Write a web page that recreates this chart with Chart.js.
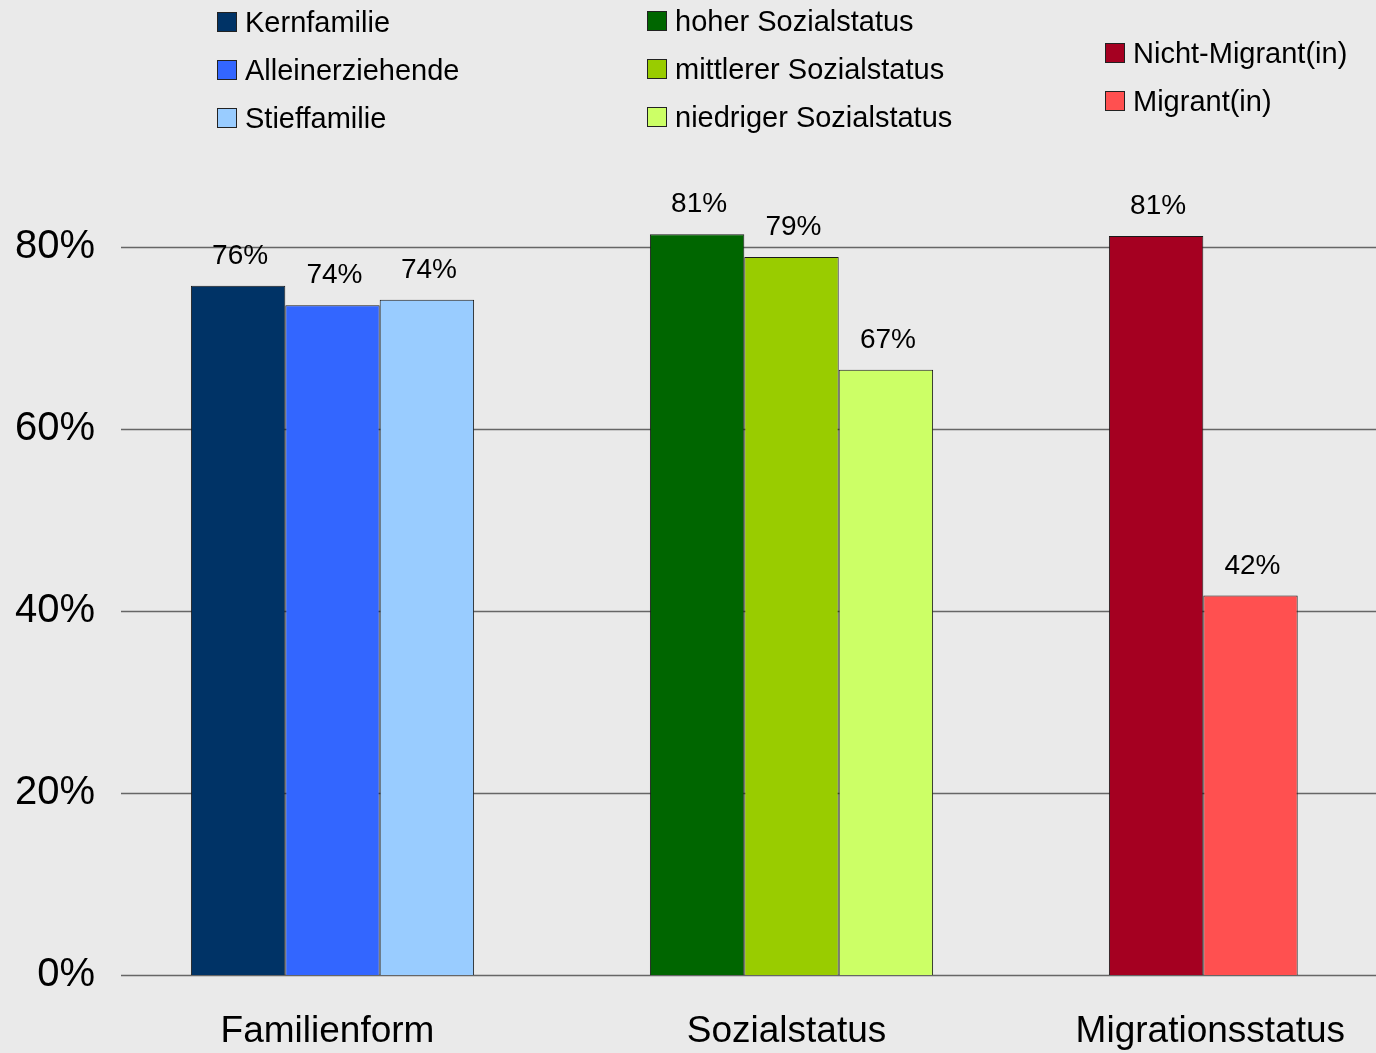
<!DOCTYPE html>
<html>
<head>
<meta charset="utf-8">
<script src="https://cdn.jsdelivr.net/npm/chart.js@4.4.1/dist/chart.umd.min.js"></script>
<style>
  html, body { margin: 0; padding: 0; background: #eaeaea; overflow: hidden; }
  #wrap { position: relative; width: 1376px; height: 1053px; overflow: hidden; }
  #box { position: absolute; left: 0; top: 0; width: 1480px; height: 1053px; }
  .col { position: absolute; font-family: "Liberation Sans", Arial, sans-serif; font-size: 29px; color: #000; }
  .item { display: flex; align-items: center; height: 48px; white-space: nowrap; }
  .sw { width: 20px; height: 20px; box-sizing: border-box; border: 1px solid #222; margin-right: 8px; }
</style>
</head>
<body>
<div id="wrap">
  <div id="box"><canvas id="chart"></canvas></div>
  <div id="legend"></div>
</div>
<script>
// categories on the x axis
const categories = ["Familienform", "Sozialstatus", "Migrationsstatus"];

// one series per legend entry
const seriesNames = [
  "Kernfamilie", "Alleinerziehende", "Stieffamilie",
  "hoher Sozialstatus", "mittlerer Sozialstatus", "niedriger Sozialstatus",
  "Nicht-Migrant(in)", "Migrant(in)"
];
const seriesCategory = [0, 0, 0, 1, 1, 1, 2, 2];
const seriesSlot = [0, 1, 2, 0, 1, 2, 0, 1];
const seriesValues = [75.75, 73.6, 74.2, 81.4, 78.9, 66.5, 81.2, 41.7];

const yTicks = [0, 20, 40, 60, 80];

const seriesColors = [
  "#003366", "#3366ff", "#99ccff",
  "#006600", "#99cc00", "#ccff66",
  "#a50021", "#ff5050"
];

const FONT = "'Liberation Sans', Arial, sans-serif";

const datasets = seriesNames.map(function(name, i) {
  return {
    label: name,
    data: categories.map(function(c, ci) { return ci === seriesCategory[i] ? seriesValues[i] : null; }),
    stack: "slot" + seriesSlot[i],
    backgroundColor: seriesColors[i],
    borderColor: "#1a1a1a",
    borderWidth: 1,
    barPercentage: 1,
    categoryPercentage: 0.617
  };
});

// grid lines drawn behind the bars, starting a bit right of the axis
const gridPlugin = {
  id: "grid",
  beforeDatasetsDraw(chart) {
    const ctx = chart.ctx;
    const y = chart.scales.y;
    const area = chart.chartArea;
    ctx.save();
    ctx.strokeStyle = "#666";
    ctx.lineWidth = 1.5;
    yTicks.forEach(function(v) {
      const py = Math.round(y.getPixelForValue(v)) + 0.5;
      ctx.beginPath();
      ctx.moveTo(area.left + 18, py);
      ctx.lineTo(area.right, py);
      ctx.stroke();
    });
    ctx.restore();
  }
};

// value labels above each bar, category names below the axis
const labelPlugin = {
  id: "valueLabels",
  afterDatasetsDraw(chart) {
    const ctx = chart.ctx;
    ctx.save();
    ctx.font = "28px " + FONT;
    ctx.fillStyle = "#000";
    ctx.textAlign = "center";
    ctx.textBaseline = "alphabetic";
    chart.data.datasets.forEach(function(ds, di) {
      const meta = chart.getDatasetMeta(di);
      meta.data.forEach(function(bar, i) {
        if (ds.data[i] === null) return;
        ctx.fillText(Math.round(ds.data[i]) + "%", bar.x + 2, bar.y - 22);
      });
    });

    // category labels, kept inside the visible page
    const x = chart.scales.x;
    const visibleRight = document.getElementById("wrap").clientWidth;
    ctx.font = "37px " + FONT;
    categories.forEach(function(c, i) {
      const w = ctx.measureText(c).width;
      const cx = Math.min(x.getPixelForValue(i) - 5, visibleRight - 31 - w / 2);
      ctx.fillText(c, cx, chart.chartArea.bottom + 67);
    });
    ctx.restore();
  }
};

new Chart(document.getElementById("chart"), {
  type: "bar",
  data: { labels: categories, datasets: datasets },
  options: {
    responsive: true,
    maintainAspectRatio: false,
    animation: false,
    layout: { padding: { top: 156, left: 0, right: 0, bottom: 0 } },
    plugins: { legend: { display: false }, tooltip: { enabled: false } },
    scales: {
      x: {
        grid: { display: false, drawTicks: false },
        border: { display: false },
        ticks: { display: false },
        afterFit(scale) { scale.height = 78; }
      },
      y: {
        min: 0,
        max: 90,
        grid: { display: false, drawTicks: false },
        border: { display: false },
        afterBuildTicks(scale) {
          scale.ticks = yTicks.map(function(v) { return { value: v }; });
        },
        ticks: {
          color: "#000",
          font: { family: FONT, size: 40 },
          padding: 8,
          callback: function(v) { return v + "%"; }
        },
        afterFit(scale) { scale.width = 103; }
      }
    }
  },
  plugins: [gridPlugin, labelPlugin]
});

// legend: one column per category
const legendCols = [
  { left: 217, top: -2 },
  { left: 647, top: -3 },
  { left: 1105, top: 29 }
];
const legend = document.getElementById("legend");
categories.forEach(function(c, ci) {
  const col = document.createElement("div");
  col.className = "col";
  col.style.left = legendCols[ci].left + "px";
  col.style.top = legendCols[ci].top + "px";
  seriesNames.forEach(function(name, i) {
    if (seriesCategory[i] !== ci) return;
    const item = document.createElement("div");
    item.className = "item";
    const sw = document.createElement("span");
    sw.className = "sw";
    sw.style.background = seriesColors[i];
    item.appendChild(sw);
    item.appendChild(document.createTextNode(name));
    col.appendChild(item);
  });
  legend.appendChild(col);
});
</script>
</body>
</html>
